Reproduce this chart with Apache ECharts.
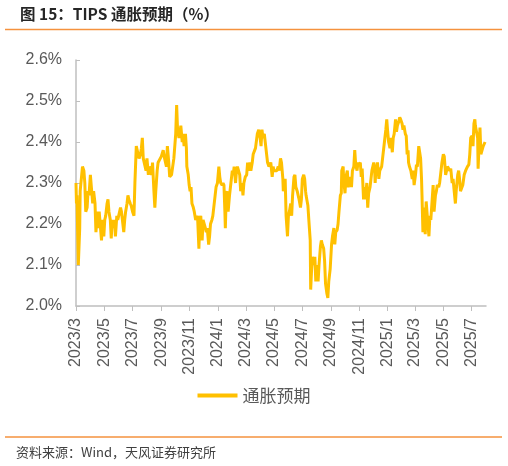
<!DOCTYPE html>
<html><head><meta charset="utf-8">
<script src="https://cdn.jsdelivr.net/npm/echarts@6/dist/echarts.min.js"></script>
<style>html,body{margin:0;padding:0;background:#fff}#c{width:508px;height:466px}</style>
</head><body><div id="c"></div>
<script>
var titleText = '图 15：TIPS 通胀预期（%）';
var sourceText = '资料来源：Wind，天风证券研究所';
var seriesName = '通胀预期';
var tickLabels = ['2023/3','2023/5','2023/7','2023/9','2023/11','2024/1','2024/3','2024/5','2024/7','2024/9','2024/11','2025/1','2025/3','2025/5','2025/7'];
var xStart = '2023-03-01', xEnd = '2025-08-01';

var dates2023 = ['03-01','03-02','03-03','03-06','03-09','03-10','03-13','03-15','03-18','03-20','03-22','03-25','03-27','03-29','04-01','04-03','04-06','04-08','04-11','04-13','04-16','04-18','04-20','04-23','04-25','04-27','04-30','05-02','05-04','05-07','05-09','05-11','05-14','05-16','05-18','05-21','05-23','05-25','05-28','05-30','06-02','06-05','06-07','06-09','06-12','06-14','06-16','06-19','06-21','06-23','06-26','06-28','07-01','07-04','07-06','07-08','07-09','07-13','07-15','07-18','07-20','07-22','07-24','07-27','07-30','08-01','08-04','08-06','08-09','08-11','08-13','08-16','08-18','08-20','08-23','08-25','08-29','09-01','09-05','09-08','09-12','09-14','09-17','09-19','09-23','09-26','09-28','10-02','10-04','10-06','10-09','10-11','10-13','10-16','10-18','10-20','10-23','10-25','10-26','10-29','10-31','11-02','11-04','11-06','11-09','11-11','11-14','11-16','11-18','11-21','11-23','11-25','11-28','11-30','12-02','12-05','12-07','12-09','12-12','12-14','12-16','12-19','12-21','12-25','12-26','12-28','12-31'];
var values2023 = [2.30,2.25,2.27,2.10,2.19,2.28,2.28,2.34,2.33,2.30,2.23,2.24,2.28,2.27,2.32,2.32,2.25,2.28,2.25,2.18,2.23,2.19,2.23,2.23,2.16,2.21,2.17,2.21,2.22,2.25,2.26,2.23,2.21,2.165,2.21,2.19,2.21,2.17,2.22,2.21,2.21,2.24,2.23,2.21,2.18,2.21,2.23,2.25,2.27,2.26,2.25,2.245,2.23,2.22,2.30,2.36,2.39,2.37,2.36,2.37,2.385,2.41,2.36,2.36,2.33,2.36,2.32,2.34,2.33,2.32,2.35,2.28,2.24,2.28,2.33,2.35,2.35,2.365,2.38,2.36,2.34,2.39,2.35,2.315,2.32,2.32,2.36,2.42,2.49,2.43,2.41,2.42,2.44,2.40,2.42,2.39,2.42,2.385,2.34,2.32,2.295,2.28,2.29,2.25,2.24,2.23,2.21,2.21,2.22,2.14,2.21,2.22,2.16,2.21,2.21,2.19,2.18,2.19,2.15,2.17,2.20,2.21,2.22,2.22,2.27,2.29,2.30];

var dates2024 = ['01-03','01-05','01-07','01-10','01-12','01-14','01-16','01-17','01-19','01-21','01-23','01-26','01-29','02-01','02-03','02-05','02-08','02-10','02-12','02-15','02-17','02-19','02-22','02-24','02-26','02-29','03-03','03-05','03-08','03-10','03-12','03-15','03-17','03-19','03-22','03-24','03-26','03-29','04-01','04-03','04-05','04-07','04-10','04-13','04-15','04-17','04-20','04-24','04-27','04-29','05-01','05-03','05-07','05-10','05-12','05-15','05-17','05-20','05-21','05-25','05-27','05-30','06-01','06-03','06-06','06-08','06-10','06-13','06-15','06-17','06-20','06-22','06-24','06-27','06-29','07-01','07-04','07-06','07-08','07-09','07-13','07-15','07-18','07-19','07-21','07-23','07-26','07-28','07-30','08-02','08-04','08-06','08-09','08-11','08-13','08-16','08-18','08-20','08-23','08-25','08-27','08-30','09-02','09-04','09-07','09-09','09-11','09-14','09-16','09-18','09-21','09-23','09-24','09-27','09-28','10-01','10-03','10-06','10-08','10-10','10-13','10-15','10-17','10-20','10-22','10-24','10-27','10-29','10-31','11-03','11-05','11-07','11-10','11-12','11-14','11-17','11-19','11-21','11-24','11-26','11-28','12-02','12-04','12-05','12-06','12-10','12-13','12-15','12-19','12-22','12-25','12-28','12-30'];
var values2024 = [2.34,2.315,2.30,2.295,2.30,2.295,2.23,2.19,2.27,2.28,2.23,2.27,2.30,2.33,2.32,2.34,2.30,2.33,2.34,2.34,2.32,2.28,2.30,2.27,2.30,2.315,2.32,2.35,2.33,2.35,2.33,2.35,2.37,2.37,2.385,2.385,2.42,2.43,2.41,2.39,2.43,2.41,2.42,2.39,2.37,2.35,2.34,2.35,2.315,2.34,2.33,2.33,2.33,2.34,2.33,2.36,2.35,2.31,2.28,2.31,2.22,2.17,2.22,2.23,2.25,2.22,2.27,2.315,2.32,2.29,2.28,2.27,2.26,2.24,2.26,2.31,2.32,2.31,2.28,2.27,2.245,2.21,2.16,2.04,2.09,2.12,2.10,2.12,2.06,2.10,2.06,2.10,2.145,2.16,2.15,2.14,2.11,2.055,2.03,2.02,2.06,2.09,2.15,2.17,2.19,2.15,2.18,2.185,2.20,2.23,2.27,2.275,2.33,2.34,2.31,2.275,2.315,2.33,2.29,2.30,2.315,2.29,2.33,2.34,2.38,2.345,2.33,2.35,2.345,2.35,2.315,2.335,2.26,2.29,2.26,2.30,2.24,2.275,2.29,2.31,2.33,2.35,2.33,2.30,2.32,2.35,2.31,2.33,2.34,2.34,2.40,2.43,2.455];

var dates2025 = ['01-01','01-03','01-06','01-08','01-11','01-13','01-15','01-18','01-20','01-22','01-25','01-27','01-29','02-01','02-03','02-05','02-08','02-10','02-12','02-14','02-15','02-17','02-20','02-23','02-25','02-27','03-02','03-04','03-06','03-09','03-11','03-13','03-15','03-16','03-18','03-20','03-23','03-25','03-28','03-31','04-02','04-04','04-07','04-09','04-11','04-14','04-16','04-18','04-21','04-23','04-25','04-28','05-01','05-03','05-06','05-08','05-10','05-13','05-15','05-17','05-20','05-22','05-24','05-27','05-29','06-01','06-03','06-05','06-07','06-10','06-12','06-15','06-18','06-20','06-22','06-25','06-27','06-29','07-02','07-04','07-06','07-08','07-09','07-11','07-14','07-15','07-17','07-19','07-21','07-24','07-26','07-28','07-30'];
var values2025 = [2.425,2.40,2.385,2.41,2.375,2.41,2.42,2.455,2.425,2.44,2.45,2.46,2.455,2.445,2.43,2.44,2.42,2.415,2.37,2.38,2.35,2.34,2.33,2.31,2.33,2.295,2.32,2.345,2.34,2.39,2.375,2.36,2.31,2.27,2.18,2.24,2.175,2.255,2.21,2.17,2.22,2.21,2.26,2.295,2.23,2.27,2.28,2.295,2.29,2.30,2.32,2.35,2.37,2.365,2.32,2.33,2.34,2.34,2.33,2.335,2.30,2.31,2.285,2.25,2.285,2.32,2.33,2.31,2.28,2.28,2.295,2.32,2.33,2.33,2.34,2.345,2.37,2.41,2.415,2.39,2.445,2.455,2.44,2.44,2.41,2.335,2.39,2.435,2.37,2.37,2.39,2.39,2.40];

// daily category axis
function pad(n){ return (n < 10 ? '0' : '') + n; }
function fmt(d){ return d.getUTCFullYear() + '-' + pad(d.getUTCMonth()+1) + '-' + pad(d.getUTCDate()); }
var categories = [];
(function(){
  var p = xStart.split('-'), q = xEnd.split('-');
  var t = Date.UTC(+p[0], +p[1]-1, +p[2]), end = Date.UTC(+q[0], +q[1]-1, +q[2]);
  for (; t <= end; t += 86400000) categories.push(fmt(new Date(t)));
})();
var obs = {};
[[2023,dates2023,values2023],[2024,dates2024,values2024],[2025,dates2025,values2025]].forEach(function(g){
  g[1].forEach(function(d,i){ obs[g[0] + '-' + d] = g[2][i]; });
});
var seriesData = categories.map(function(c){ return obs.hasOwnProperty(c) ? obs[c] : null; });

function catToLabel(c){ var p = c.split('-'); return (+p[0]) + '/' + (+p[1]); }
var tickSet = {};
tickLabels.forEach(function(l){ tickSet[l] = true; });
function isTick(idx, c){ return c.slice(8) === '01' && tickSet[catToLabel(c)] === true; }

var gray = '#595959';
var chart = echarts.init(document.getElementById('c'), null, {renderer:'canvas'});
chart.setOption({
  animation: false,
  textStyle: {fontFamily: '"Liberation Sans", Arial, "Noto Sans CJK SC", sans-serif'},
  grid: {left: 76, right: 22, top: 60, bottom: 160, containLabel: false},
  xAxis: {
    type: 'category', data: categories, boundaryGap: false,
    axisLine: {show: true, lineStyle: {color: '#BFBFBF', width: 1.5}},
    axisTick: {show: true, length: 5, lineStyle: {color: '#BFBFBF'}, interval: isTick},
    axisLabel: {
      interval: isTick, rotate: 90, margin: 12, color: gray, fontSize: 16,
      fontFamily: '"Liberation Sans", Arial, sans-serif',
      formatter: function(v){ return catToLabel(v); }
    },
    splitLine: {show: false}
  },
  yAxis: {
    type: 'value', min: 2.0, max: 2.6, interval: 0.1,
    axisLine: {show: true, lineStyle: {color: '#BFBFBF', width: 1.5}},
    axisTick: {show: true, inside: true, length: 4, lineStyle: {color: '#BFBFBF'}},
    axisLabel: {color: gray, fontSize: 16, margin: 14, fontFamily: '"Liberation Sans", Arial, sans-serif',
      formatter: function(v){ return v.toFixed(1) + '%'; }},
    splitLine: {show: false}
  },
  legend: {
    data: [{name: seriesName, icon: 'rect'}], top: 382, left: 'center',
    itemWidth: 40, itemHeight: 4, itemGap: 10,
    textStyle: {color: gray, fontSize: 17, fontFamily: '"Noto Sans CJK SC", sans-serif'}
  },
  series: [{
    name: seriesName, type: 'line', data: seriesData, connectNulls: true, showSymbol: false, symbol: 'none',
    lineStyle: {color: '#FFC000', width: 3}, itemStyle: {color: '#FFC000'}
  }],
  graphic: [
    {type: 'text', left: 20, top: 6, style: {text: titleText, fill: '#262626', font: 'bold 15.5px "Noto Sans CJK SC", sans-serif'}},
    {type: 'line', shape: {x1: 5, y1: 29.5, x2: 502, y2: 29.5}, style: {stroke: '#F5923E', lineWidth: 1.5}},
    {type: 'line', shape: {x1: 5, y1: 437, x2: 502, y2: 437}, style: {stroke: '#F5923E', lineWidth: 1.5}},
    {type: 'text', left: 16, top: 446, style: {text: sourceText, fill: '#404040', font: '13px "Noto Sans CJK SC", sans-serif'}}
  ]
});
</script></body></html>
